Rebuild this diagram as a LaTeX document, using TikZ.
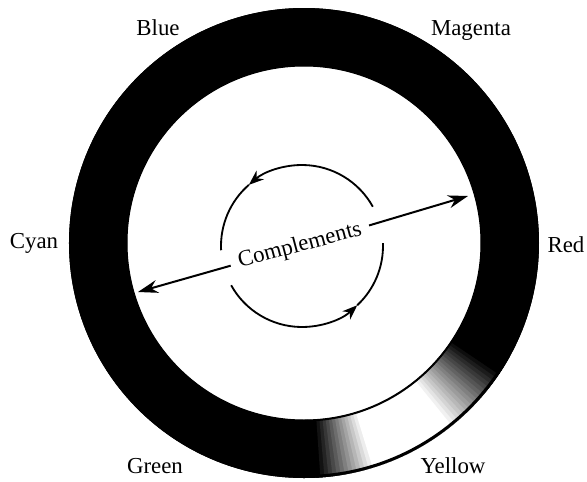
\documentclass[tikz,border=0pt]{standalone}
\usepackage{fontspec}
\setmainfont{Liberation Serif}
\usetikzlibrary{arrows.meta}

\tikzset{
  hue/.style={font=\fontsize{19.5}{22}\selectfont, anchor=base},
  pair/.style={line width=0.6mm, -{Stealth[length=6mm,width=3.9mm]}},
  turn/.style={line width=0.55mm}
}

\begin{document}
\begin{tikzpicture}[x=0.3mm, y=0.3mm]
  \useasboundingbox (-304,-238) rectangle (283,243);
  % ring
  \fill[black, even odd rule] (0,0) circle (235) (0,0) circle (177);
  % light patch near yellow
  \foreach \a in {-90,...,-30} {
    \pgfmathsetmacro\w{max(0,min(100,(\a+87)*100/14,(-34-\a)*100/18))}
    \pgfmathsetmacro\b{\a+1.3}
    \fill[white!\w!black] (\a:235) arc (\a:\b:235) -- (\b:177) arc (\b:\a:177) -- cycle;
  }
  \draw[line width=0.9mm] (0,0) circle (233.5);
  \draw[line width=0.6mm] (0,0) circle (177.5);
  % colour names
  \node[hue] (blue) at (-146,208) {Blue};
  \node[hue] (magenta) at (167,208) {Magenta};
  \node[hue] (cyan) at (-270,-5) {Cyan};
  \node[hue] (red) at (262,-9) {Red};
  \node[hue] (green) at (-149,-230) {Green};
  \node[hue] (yellow) at (149,-230) {Yellow};
  % complements
  \node[font=\fontsize{19.5}{22}\selectfont, rotate=15, inner xsep=2.5mm] (compl) at (-4,-3) {Complements};
  \coordinate (ltip) at (-166,-49);
  \coordinate (rtip) at (164,47);
  \draw[pair] (compl) -- (ltip);
  \draw[pair] (compl) -- (rtip);
  % turning arrows
  \begin{scope}[shift={(-2,-3)}]
    \draw[turn, -{Stealth[length=4.5mm,width=3.4mm]}] (29:81) arc (29:131:81);
    \draw[turn] (131:81) arc (131:183:81);
    \draw[turn, -{Stealth[length=4.5mm,width=3.4mm]}] (209:81) arc (209:313:81);
    \draw[turn] (313:81) arc (313:362:81);
  \end{scope}
\end{tikzpicture}
\end{document}
